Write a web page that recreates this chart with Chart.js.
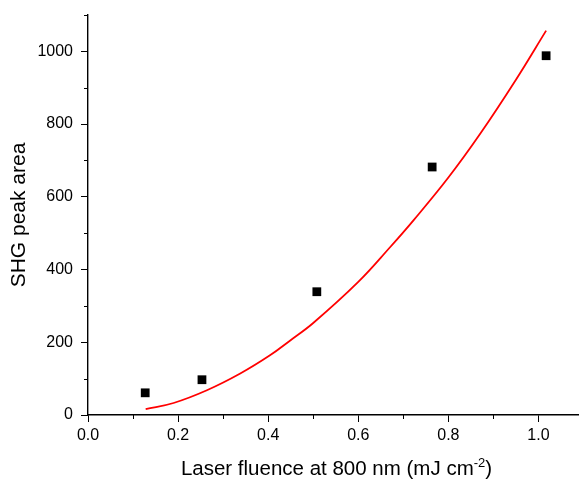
<!DOCTYPE html>
<html>
<head>
<meta charset="utf-8">
<script src="https://cdn.jsdelivr.net/npm/chart.js@4/dist/chart.umd.min.js"></script>
<style>
html,body{margin:0;padding:0;background:#fff;overflow:hidden;}
#wrap{width:579px;height:481px;position:relative;}
</style>
</head>
<body>
<div id="wrap"><canvas id="c" width="579" height="481"></canvas></div>
<script>
const fluence = [0.127, 0.253, 0.508, 0.764, 1.017];
const peakArea = [61, 97, 339, 682, 988];
// Fit curve, points
const fitX = [0.128, 0.19, 0.264, 0.338, 0.404, 0.449, 0.5, 0.6, 0.671, 0.723, 0.8, 0.871, 0.95, 1.017];
const fitY = [16, 33, 68, 114, 164, 205, 253, 366, 462, 536, 653, 774, 922, 1057];
// Ticks
const xMajor = [0.0, 0.2, 0.4, 0.6, 0.8, 1.0];
const xMinor = [0.1, 0.3, 0.5, 0.7, 0.9];
const yMajor = [0, 200, 400, 600, 800, 1000];
const yMinor = [100, 300, 500, 700, 900, 1100];
const xTitleMain = 'Laser fluence at 800 nm (mJ cm';
const xTitleSup = '-2';
const xTitleEnd = ')';
const yTitle = 'SHG peak area';

const FONT = "'Liberation Sans', Arial, sans-serif";

const minorTicks = {
  id: 'minorTicks',
  afterDraw(chart) {
    const ctx = chart.ctx;
    const xs = chart.scales.x, ys = chart.scales.y;
    ctx.save();
    ctx.strokeStyle = '#000';
    ctx.lineWidth = 1;
    xMinor.forEach(v => {
      const px = Math.round(xs.getPixelForValue(v)) + 0.5;
      ctx.beginPath(); ctx.moveTo(px, xs.top); ctx.lineTo(px, xs.top + 4); ctx.stroke();
    });
    yMinor.forEach(v => {
      const py = Math.round(ys.getPixelForValue(v)) + 0.5;
      ctx.beginPath(); ctx.moveTo(ys.right, py); ctx.lineTo(ys.right - 4, py); ctx.stroke();
    });
    // x axis title with superscript
    const main = '20.5px ' + FONT, sup = '13px ' + FONT;
    ctx.fillStyle = '#000';
    ctx.textBaseline = 'alphabetic';
    ctx.font = main; const w1 = ctx.measureText(xTitleMain).width;
    const w3 = ctx.measureText(xTitleEnd).width;
    ctx.font = sup; const w2 = ctx.measureText(xTitleSup).width;
    const total = w1 + w2 + w3;
    const cx = 336.5;
    let x0 = cx - total / 2;
    const base = 475;
    ctx.textAlign = 'left';
    ctx.font = main; ctx.fillText(xTitleMain, x0, base);
    ctx.font = sup; ctx.fillText(xTitleSup, x0 + w1, base - 8);
    ctx.font = main; ctx.fillText(xTitleEnd, x0 + w1 + w2, base);
    ctx.restore();
  }
};

new Chart(document.getElementById('c'), {
  type: 'scatter',
  data: {
    datasets: [
      {
        data: fitX.map((x, i) => ({x, y: fitY[i]})),
        showLine: true,
        borderColor: '#ff0000',
        borderWidth: 1.8,
        pointRadius: 0,
        tension: 0.4,
        order: 2
      },
      {
        data: fluence.map((x, i) => ({x, y: peakArea[i]})),
        pointStyle: 'rect',
        pointRadius: 6.2,
        pointBackgroundColor: '#000',
        pointBorderWidth: 0,
        borderColor: '#000',
        showLine: false,
        order: 1
      }
    ]
  },
  options: {
    responsive: false,
    animation: false,
    devicePixelRatio: 1,
    layout: {autoPadding: false, padding: {left: 0, right: 0, top: 15, bottom: 0}},
    plugins: {legend: {display: false}, tooltip: {enabled: false}},
    scales: {
      x: {
        type: 'linear',
        min: 0, max: 1.09,
        afterBuildTicks: s => { s.ticks = xMajor.map(v => ({value: v})); },
        afterFit: s => { s.height = 66; s.paddingLeft = 0; s.paddingRight = 0; },
        ticks: {
          color: '#000', font: {size: 16, family: FONT}, padding: 4,
          maxRotation: 0, autoSkip: false,
          callback: v => Number(v).toFixed(1)
        },
        grid: {drawOnChartArea: false, drawTicks: true, tickLength: 7, color: '#000', lineWidth: 1},
        border: {display: true, color: '#000', width: 1.4}
      },
      y: {
        type: 'linear',
        min: 0, max: 1100,
        afterBuildTicks: s => { s.ticks = yMajor.map(v => ({value: v})); },
        afterFit: s => { s.width = 88; s.paddingTop = 0; s.paddingBottom = 0; },
        ticks: {
          color: '#000', font: {size: 16, family: FONT}, padding: 8,
          autoSkip: false,
          callback: v => String(v)
        },
        title: {display: true, text: yTitle, color: '#000', font: {size: 21, family: FONT}, padding: {top: 7, bottom: 0}},
        grid: {drawOnChartArea: false, drawTicks: true, tickLength: 7, color: '#000', lineWidth: 1},
        border: {display: true, color: '#000', width: 1.4}
      }
    }
  },
  plugins: [minorTicks]
});
</script>
</body>
</html>
